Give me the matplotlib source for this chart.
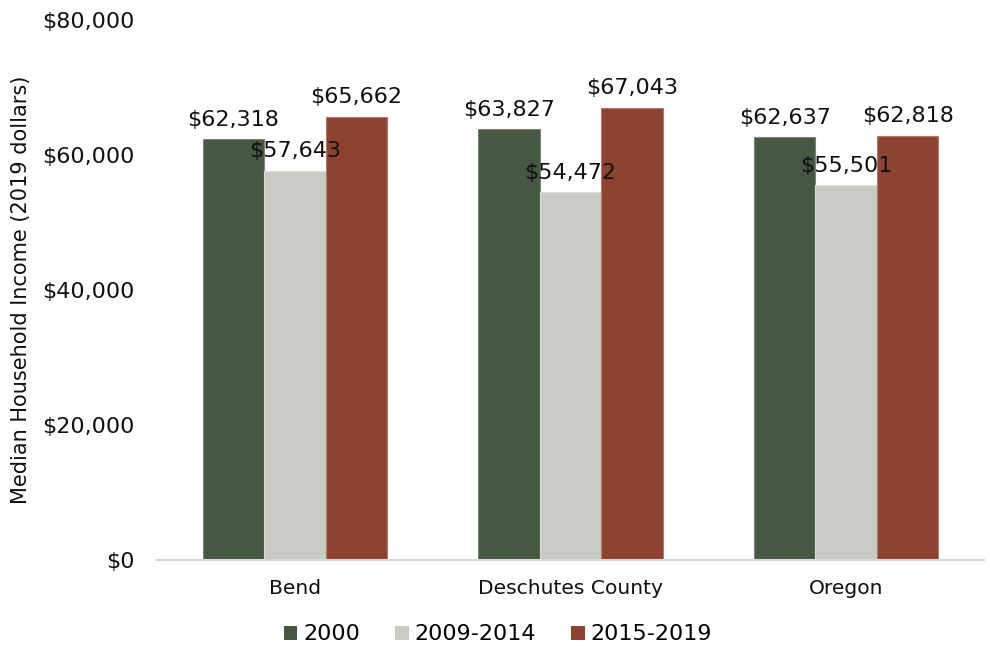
import matplotlib
matplotlib.use("Agg")
import matplotlib.pyplot as plt
import numpy as np
from matplotlib.ticker import FuncFormatter
from matplotlib.patches import Patch

plt.rcParams['font.family'] = ['DejaVu Sans']

categories = ["Bend", "Deschutes County", "Oregon"]
series_names = ["2000", "2009-2014", "2015-2019"]
values_2000 = [62318, 63827, 62637]
values_2009_2014 = [57643, 54472, 55501]
values_2015_2019 = [65662, 67043, 62818]
yticks = [0, 20000, 40000, 60000, 80000]

series = [values_2000, values_2009_2014, values_2015_2019]
colors = ["#465742", "#C8CBC4", "#8E4332"]
edges = ["#7a8677", "#dcded9", "#b07a6c"]

fig = plt.figure(figsize=(9.9, 6.48), dpi=100)
ax = fig.add_axes([0.1586, 0.1358, 0.8353, 0.8332])

x = np.arange(len(categories))
w = 0.223
for i, (vals, c, e) in enumerate(zip(series, colors, edges)):
    pos = x + (i - 1) * w
    bars = ax.bar(pos, vals, width=w, color=c, edgecolor=e, linewidth=0.8, label=series_names[i], zorder=2)
    for b, v in zip(bars, vals):
        ax.annotate(f"${v:,.0f}", (b.get_x() + b.get_width() / 2, v), xytext=(0, 7),
                    textcoords="offset points", ha="center", va="bottom", fontsize=16, color="#111111", zorder=3)

ax.set_xlim(-0.5, 2.5)
ax.set_ylim(0, 80000)
ax.set_yticks(yticks)
ax.yaxis.set_major_formatter(FuncFormatter(lambda v, p: f"${v:,.0f}"))
ax.set_xticks(x)
ax.set_xticklabels(categories)
ax.tick_params(axis='y', length=0, pad=16, labelsize=16, labelcolor="#111111")
ax.tick_params(axis='x', length=0, pad=14, labelsize=14.6, labelcolor="#111111")
for s in ["top", "right", "left"]:
    ax.spines[s].set_visible(False)
ax.spines["bottom"].set_color("#d9d9d9")
ax.spines["bottom"].set_linewidth(1.5)
ax.set_ylabel("Median Household Income (2019 dollars)", fontsize=15, color="#111111", labelpad=8)

handles = [Patch(facecolor=c, edgecolor="none") for c in colors]
fig.legend(handles, series_names, loc="center", bbox_to_anchor=(0.503, 0.021), ncol=3, frameon=False,
           fontsize=16, handlelength=0.6, handleheight=0.6, handletextpad=0.25, columnspacing=1.6)

fig.savefig("out.png", dpi=100)
